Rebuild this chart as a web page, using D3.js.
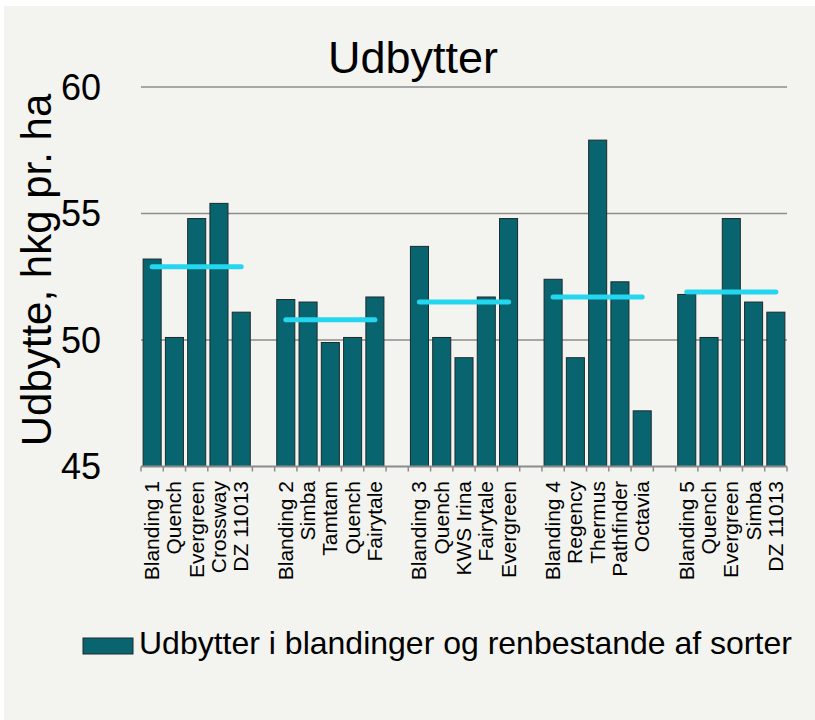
<!DOCTYPE html>
<html>
<head>
<meta charset="utf-8">
<script src="https://cdn.jsdelivr.net/npm/d3@7"></script>
<style>
  body { margin: 0; background: #ffffff; }
  svg { display: block; font-family: Arial, "Liberation Sans", sans-serif; }
</style>
</head>
<body>
<svg id="chart" width="815" height="720"></svg>
<script>
// groups of cultivars, each starts with the blend
const groups = ["Blanding 1", "Blanding 2", "Blanding 3", "Blanding 4", "Blanding 5"];
const labels = [
    ["Blanding 1", "Quench", "Evergreen", "Crossway", "DZ 11013"],
    ["Blanding 2", "Simba", "Tamtam", "Quench", "Fairytale"],
    ["Blanding 3", "Quench", "KWS Irina", "Fairytale", "Evergreen"],
    ["Blanding 4", "Regency", "Thermus", "Pathfinder", "Octavia"],
    ["Blanding 5", "Quench", "Evergreen", "Simba", "DZ 11013"]
];
const yields = [
    [53.2, 50.1, 54.8, 55.4, 51.1],
    [51.6, 51.5, 49.9, 50.1, 51.7],
    [53.7, 50.1, 49.3, 51.7, 54.8],
    [52.4, 49.3, 57.9, 52.3, 47.2],
    [51.8, 50.1, 54.8, 51.5, 51.1]
];
// cyan line per group (mean of pure stands)
const groupMeans = [52.9, 50.8, 51.5, 51.7, 51.9];
const yTicks = [45, 50, 55, 60];

const titleText = "Udbytter";
const yTitle = "Udbytte, hkg pr. ha";
const legendText = "Udbytter i blandinger og renbestande af sorter";

const barColor = "#08656f";
const meanColor = "#24d6ee";
const gridColor = "#8c8c8c";

// build slot list: 5 bars per group, then one empty slot
let slots = [];
let bars = [];
groups.forEach((g, gi) => {
    labels[gi].forEach((lab, i) => {
        const key = "s" + gi + "_" + i;
        slots.push(key);
        bars.push({ key: key, label: lab, value: yields[gi][i], group: gi });
    });
    if (gi < groups.length - 1) slots.push("gap" + gi);
});

const svg = d3.select("#chart");

// panel background
svg.append("rect")
    .attr("x", 4).attr("y", 6)
    .attr("width", 811).attr("height", 714)
    .attr("fill", "#f3f3ef");

const x = d3.scaleBand()
    .domain(slots)
    .range([141, 787])
    .paddingInner(0)
    .paddingOuter(0);

const y = d3.scaleLinear()
    .domain([45, 60])
    .range([466.5, 87]);

// gridlines
svg.append("g")
    .selectAll("line")
    .data(yTicks.filter(d => d > 45))
    .enter()
    .append("line")
    .attr("x1", 141).attr("x2", 787)
    .attr("y1", d => y(d)).attr("y2", d => y(d))
    .attr("stroke", gridColor)
    .attr("stroke-width", 1.6);

// y tick labels
svg.append("g")
    .selectAll("text")
    .data(yTicks)
    .enter()
    .append("text")
    .attr("x", 101)
    .attr("y", d => y(d))
    .attr("dy", "0.36em")
    .attr("text-anchor", "end")
    .attr("font-size", 36)
    .attr("fill", "#000")
    .text(d => d);

// bars
const bw = x.bandwidth() * 0.81;
svg.append("g")
    .selectAll("rect")
    .data(bars)
    .enter()
    .append("rect")
    .attr("x", d => x(d.key) + (x.bandwidth() - bw) / 2)
    .attr("y", d => y(d.value))
    .attr("width", bw)
    .attr("height", d => y(45) - y(d.value))
    .attr("fill", barColor)
    .attr("stroke", "#1c2a2c")
    .attr("stroke-width", 1);

// mean lines
svg.append("g")
    .selectAll("line")
    .data(groupMeans)
    .enter()
    .append("line")
    .attr("x1", (d, i) => x("s" + i + "_0") + x.bandwidth() / 2)
    .attr("x2", (d, i) => x("s" + i + "_4") + x.bandwidth() / 2)
    .attr("y1", d => y(d))
    .attr("y2", d => y(d))
    .attr("stroke", meanColor)
    .attr("stroke-width", 5)
    .attr("stroke-linecap", "round");

// x axis line + ticks at slot edges
const axisG = svg.append("g");
axisG.append("line")
    .attr("x1", 141).attr("x2", 787)
    .attr("y1", y(45)).attr("y2", y(45))
    .attr("stroke", gridColor)
    .attr("stroke-width", 2);
const edges = slots.map(s => x(s)).concat([787]);
axisG.selectAll("line.tick")
    .data(edges)
    .enter()
    .append("line")
    .attr("class", "tick")
    .attr("x1", d => d).attr("x2", d => d)
    .attr("y1", y(45)).attr("y2", y(45) + 5)
    .attr("stroke", gridColor)
    .attr("stroke-width", 1.5);

// category labels, rotated
svg.append("g")
    .selectAll("text")
    .data(bars)
    .enter()
    .append("text")
    .attr("transform", d => `translate(${x(d.key) + x.bandwidth() / 2 + 7}, 481) rotate(-90)`)
    .attr("text-anchor", "end")
    .attr("font-size", 21)
    .attr("fill", "#000")
    .text(d => d.label);

// title
svg.append("text")
    .attr("x", 413).attr("y", 73)
    .attr("text-anchor", "middle")
    .attr("font-size", 45)
    .attr("fill", "#000")
    .text(titleText);

// y axis title
svg.append("text")
    .attr("transform", "translate(51, 270) rotate(-90)")
    .attr("text-anchor", "middle")
    .attr("font-size", 42)
    .attr("fill", "#000")
    .text(yTitle);

// legend
const leg = svg.append("g");
leg.append("rect")
    .attr("x", 83).attr("y", 638)
    .attr("width", 50).attr("height", 16)
    .attr("fill", barColor)
    .attr("stroke", "#1c2a2c")
    .attr("stroke-width", 1);
leg.append("text")
    .attr("x", 139).attr("y", 654)
    .attr("font-size", 32)
    .attr("fill", "#000")
    .text(legendText);
</script>
</body>
</html>
